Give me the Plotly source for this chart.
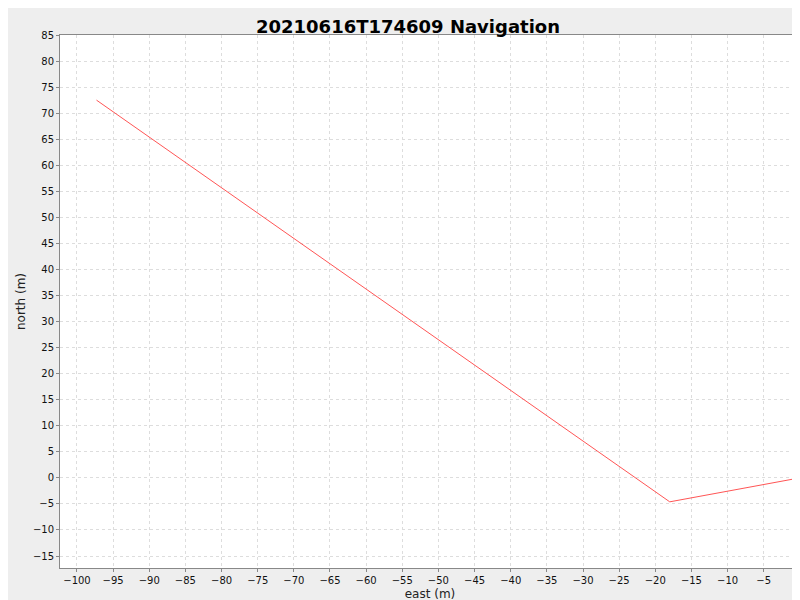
import plotly.graph_objects as go

east = [0.0, -18.0, -97.3]
north = [0.0, -4.6, 72.5]

fig = go.Figure()
fig.add_trace(go.Scatter(x=east, y=north, mode='lines',
                         line=dict(color='#ff5555', width=1), showlegend=False))

axis_common = dict(showgrid=True, gridcolor='#dddddd', griddash='3px,3px', gridwidth=1,
                   zeroline=False, showline=True, linecolor='#888888', mirror=True,
                   ticks='outside', ticklen=3, tickcolor='#888888', automargin=False,
                   tickfont=dict(family='DejaVu Sans', size=10, color='#111111'), dtick=5)

fig.update_layout(
    width=800, height=600,
    title=dict(text='<b>20210616T174609 Navigation</b>', x=0.5, y=0.98, xanchor='center',
               automargin=False,
               font=dict(family='DejaVu Sans', size=18, color='black')),
    paper_bgcolor='#eeeeee', plot_bgcolor='white',
    margin=dict(l=52, r=8, t=27, b=40, autoexpand=False),
    xaxis=dict(axis_common, range=[-102.35, 0.02], title=dict(text='east (m)', standoff=4,
               font=dict(family='DejaVu Sans', size=12, color='#222222'))),
    yaxis=dict(axis_common, range=[-17.3, 85], title=dict(text='north (m)', standoff=4,
               font=dict(family='DejaVu Sans', size=12, color='#222222'))),
)
fig.write_html('out.html')
